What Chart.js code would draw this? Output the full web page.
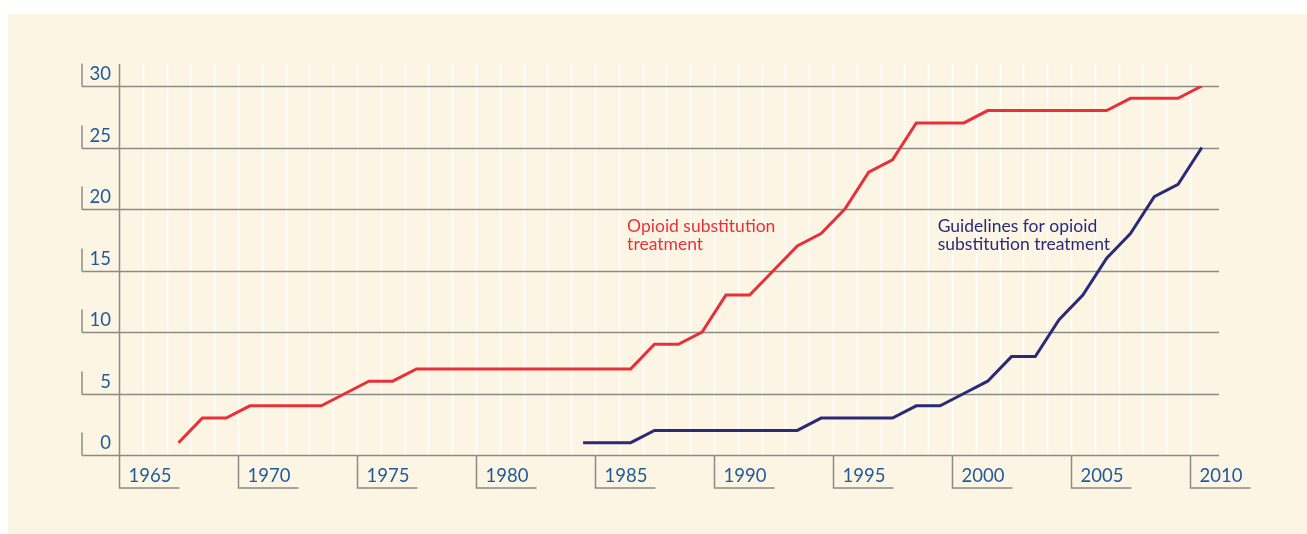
<!DOCTYPE html>
<html>
<head>
<meta charset="utf-8">
<script src="https://cdn.jsdelivr.net/npm/chart.js@4"></script>
<style>
  html, body { margin: 0; padding: 0; background: #ffffff; }
  #panel { position: absolute; left: 8px; top: 14px; width: 1299px; height: 520px; background: #fdf5e4; }
  #wrap { position: absolute; left: 0; top: 0; width: 1307px; height: 534px; }
</style>
</head>
<body>
<div id="panel"></div>
<div id="wrap"><canvas id="chart" width="1307" height="534"></canvas></div>
<script>
// years and values
const ostYears = [1967, 1968, 1969, 1970, 1971, 1972, 1973, 1974, 1975, 1976, 1977, 1978, 1979, 1980,
                  1981, 1982, 1983, 1984, 1985, 1986, 1987, 1988, 1989, 1990, 1991, 1992, 1993, 1994,
                  1995, 1996, 1997, 1998, 1999, 2000, 2001, 2002, 2003, 2004, 2005, 2006, 2007, 2008,
                  2009, 2010];
const ostValues = [1, 3, 3, 4, 4, 4, 4, 5, 6, 6, 7, 7, 7, 7,
                   7, 7, 7, 7, 7, 7, 9, 9, 10, 13, 13, 15, 17, 18,
                   20, 23, 24, 27, 27, 27, 28, 28, 28, 28, 28, 28, 29, 29,
                   29, 30];

const guideYears = [1984, 1985, 1986, 1987, 1988, 1989, 1990, 1991, 1992, 1993, 1994, 1995, 1996, 1997,
                    1998, 1999, 2000, 2001, 2002, 2003, 2004, 2005, 2006, 2007, 2008, 2009, 2010];
const guideValues = [1, 1, 1, 2, 2, 2, 2, 2, 2, 2, 3, 3, 3, 3,
                     4, 4, 5, 6, 8, 8, 11, 13, 16, 18, 21, 22, 25];

const yTicks = [0, 5, 10, 15, 20, 25, 30];
const xTicks = [1965, 1970, 1975, 1980, 1985, 1990, 1995, 2000, 2005, 2010];

const RED = '#e8303a';
const NAVY = '#2b2a78';
const LABEL = '#1f5a9c';
const GRID = '#8d8b86';

// points sit in the middle of each year
const toPoints = (years, vals) => years.map((y, i) => ({ x: y + 0.5, y: vals[i] }));

const axisPlugin = {
    id: 'axisDeco',
    beforeDatasetsDraw(chart) {
        const ctx = chart.ctx;
        const xs = chart.scales.x;
        const ys = chart.scales.y;
        const area = chart.chartArea;
        const gridTop = area.top - 22;
        ctx.save();

        // white year lines
        ctx.strokeStyle = '#ffffff';
        ctx.lineWidth = 1.5;
        for (let yr = 1966; yr <= 2010; yr++) {
            const px = Math.round(xs.getPixelForValue(yr)) + 0.5;
            ctx.beginPath();
            ctx.moveTo(px, gridTop);
            ctx.lineTo(px, area.bottom);
            ctx.stroke();
        }

        // horizontal grid + y labels
        ctx.strokeStyle = GRID;
        ctx.lineWidth = 1.5;
        ctx.font = '18.5px Lato';
        ctx.fillStyle = LABEL;
        ctx.textAlign = 'right';
        ctx.textBaseline = 'middle';
        yTicks.forEach(v => {
            const py = Math.round(ys.getPixelForValue(v)) + 0.5;
            ctx.beginPath();
            ctx.moveTo(area.left - 37, py);
            ctx.lineTo(area.right, py);
            ctx.stroke();
            ctx.beginPath();
            ctx.moveTo(area.left - 37, py);
            ctx.lineTo(area.left - 37, py - 23);
            ctx.stroke();
            ctx.fillText(String(v), area.left - 8, py - 12);
        });

        // y axis line
        ctx.beginPath();
        ctx.moveTo(area.left + 0.5, gridTop);
        ctx.lineTo(area.left + 0.5, area.bottom);
        ctx.stroke();

        // x label boxes
        ctx.textAlign = 'left';
        xTicks.forEach(yr => {
            const px = Math.round(xs.getPixelForValue(yr)) + 0.5;
            ctx.beginPath();
            ctx.moveTo(px, area.bottom);
            ctx.lineTo(px, area.bottom + 33);
            ctx.lineTo(px + 60, area.bottom + 33);
            ctx.stroke();
            ctx.fillText(String(yr), px + 9, area.bottom + 21);
        });

        // annotations
        ctx.font = '17.5px Lato';
        ctx.textBaseline = 'alphabetic';
        ctx.fillStyle = RED;
        let tx = xs.getPixelForValue(1986.35);
        let ty = ys.getPixelForValue(18.1);
        ctx.fillText('Opioid substitution', tx, ty);
        ctx.fillText('treatment', tx, ty + 18);

        ctx.fillStyle = NAVY;
        tx = xs.getPixelForValue(1999.4);
        ctx.fillText('Guidelines for opioid', tx, ty);
        ctx.fillText('substitution treatment', tx, ty + 18);

        ctx.restore();
    }
};

new Chart(document.getElementById('chart').getContext('2d'), {
    type: 'line',
    data: {
        datasets: [
            {
                label: 'Opioid substitution treatment',
                data: toPoints(ostYears, ostValues),
                borderColor: RED,
                borderWidth: 3,
                pointRadius: 0,
                tension: 0,
                fill: false
            },
            {
                label: 'Guidelines for opioid substitution treatment',
                data: toPoints(guideYears, guideValues),
                borderColor: NAVY,
                borderWidth: 3,
                pointRadius: 0,
                tension: 0,
                fill: false
            }
        ]
    },
    options: {
        responsive: false,
        animation: false,
        layout: { padding: { left: 119, top: 86, right: 88, bottom: 79 } },
        plugins: {
            legend: { display: false },
            tooltip: { enabled: false }
        },
        scales: {
            x: { type: 'linear', display: false, min: 1965, max: 2011.22 },
            y: { display: false, min: 0, max: 30 }
        }
    },
    plugins: [axisPlugin]
});
</script>
</body>
</html>
